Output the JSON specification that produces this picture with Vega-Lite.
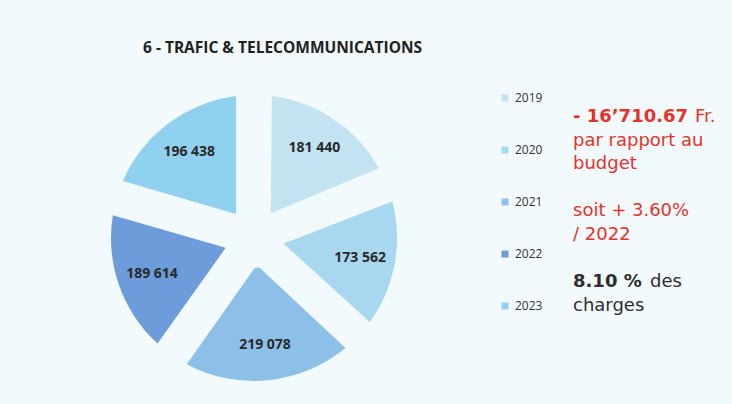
{
  "$schema": "https://vega.github.io/schema/vega-lite/v6.json",
  "background": "#f3fafd",
  "padding": {"left": 109, "top": 40, "right": 9, "bottom": 21},
  "title": {
    "text": "6 - TRAFIC & TELECOMMUNICATIONS",
    "anchor": "start",
    "dx": 34,
    "offset": 36,
    "font": "Open Sans",
    "fontSize": 15.5,
    "fontWeight": "bold",
    "color": "#222222"
  },
  "config": {
    "view": {"stroke": null},
    "locale": {"number": {"decimal": ".", "thousands": " ", "grouping": [3], "currency": ["", ""]}}
  },
  "spacing": 174,
  "hconcat": [
    {
      "width": 290,
      "height": 290,
      "data": {
        "values": [
          {"year": "2019", "amount": 181440},
          {"year": "2020", "amount": 173562},
          {"year": "2021", "amount": 219078},
          {"year": "2022", "amount": 189614},
          {"year": "2023", "amount": 196438}
        ]
      },
      "encoding": {
        "theta": {"field": "amount", "type": "quantitative", "stack": true},
        "order": {"field": "year", "type": "ordinal", "sort": "ascending"},
        "color": {
          "field": "year",
          "type": "nominal",
          "scale": {
            "domain": ["2019", "2020", "2021", "2022", "2023"],
            "range": ["#c3e3f3", "#a7d8ef", "#8cc0e8", "#6c9cd9", "#8fd1ee"]
          },
          "legend": {
            "orient": "none",
            "legendX": 390,
            "legendY": -1,
            "title": null,
            "symbolType": "square",
            "symbolSize": 49,
            "symbolStrokeWidth": 0,
            "symbolOpacity": 1,
            "labelFont": "Open Sans",
            "labelFontSize": 12,
            "labelColor": "#333333",
            "rowPadding": 40
          }
        }
      },
      "layer": [
        {
          "mark": {"type": "arc", "innerRadius": 30, "outerRadius": 143, "padAngle": 0.245}
        },
        {
          "mark": {"type": "text", "radius": 108, "font": "Open Sans", "fontSize": 14, "fontWeight": "bold"},
          "encoding": {
            "color": {"value": "#2a2a2a"},
            "detail": {"field": "year", "type": "nominal"},
            "text": {"field": "amount", "type": "quantitative", "format": ","}
          }
        }
      ]
    },
    {
      "width": 150,
      "height": 212,
      "encoding": {
        "x": {"value": 0},
        "y": {"field": "line", "type": "quantitative", "scale": {"domain": [0, 9], "reverse": true, "nice": false, "zero": true}, "axis": null},
        "text": {"field": "text", "type": "nominal"}
      },
      "layer": [
        {
          "data": {"values": [{"line": 1, "text": "- 16’710.67"}]},
          "mark": {"type": "text", "align": "left", "baseline": "alphabetic", "dy": 5.5, "font": "DejaVu Sans", "fontSize": 18, "fontWeight": "bold", "color": "#e5332a"}
        },
        {
          "data": {"values": [{"line": 1, "text": "Fr."}]},
          "mark": {"type": "text", "align": "left", "baseline": "alphabetic", "dx": 122, "dy": 5.5, "font": "DejaVu Sans", "fontSize": 18, "color": "#e5332a"}
        },
        {
          "data": {"values": [
            {"line": 2, "text": "par rapport au"},
            {"line": 3, "text": "budget"},
            {"line": 5, "text": "soit + 3.60%"},
            {"line": 6, "text": "/ 2022"}
          ]},
          "mark": {"type": "text", "align": "left", "baseline": "alphabetic", "dy": 5.5, "font": "DejaVu Sans", "fontSize": 18, "color": "#e5332a"}
        },
        {
          "data": {"values": [{"line": 8, "text": "8.10 %"}]},
          "mark": {"type": "text", "align": "left", "baseline": "alphabetic", "dy": 5.5, "font": "DejaVu Sans", "fontSize": 18, "fontWeight": "bold", "color": "#2e2e2e"}
        },
        {
          "data": {"values": [{"line": 8, "text": "des"}]},
          "mark": {"type": "text", "align": "left", "baseline": "alphabetic", "dx": 77, "dy": 5.5, "font": "DejaVu Sans", "fontSize": 18, "color": "#2e2e2e"}
        },
        {
          "data": {"values": [{"line": 9, "text": "charges"}]},
          "mark": {"type": "text", "align": "left", "baseline": "alphabetic", "dy": 5.5, "font": "DejaVu Sans", "fontSize": 18, "color": "#2e2e2e"}
        }
      ]
    }
  ]
}
